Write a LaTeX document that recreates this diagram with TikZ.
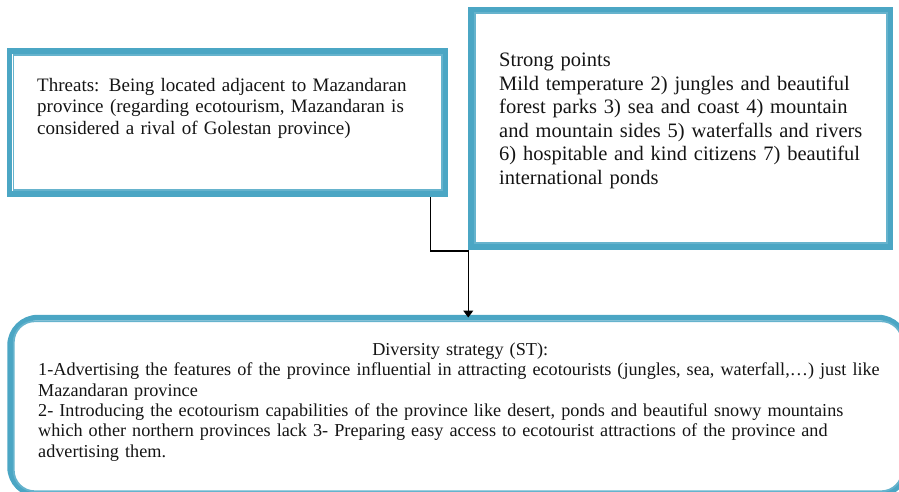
\documentclass[tikz,border=0pt]{standalone}
\usepackage{fontspec}
\setmainfont{Liberation Serif}
\usetikzlibrary{arrows.meta,calc}
\definecolor{boxblue}{RGB}{75,166,196}
\newcommand\jline[1]{\noindent\hbox to\linewidth{#1}\par}
\newcommand\nline[1]{\noindent\hbox{#1}\par}
\begin{document}
\begin{tikzpicture}[x=1pt,y=-1pt,
  outerbox/.style={draw=boxblue,line width=5.5pt,rectangle,inner sep=0pt},
  innerline/.style={draw=boxblue!85,line width=1.8pt},
  txt/.style={inner sep=0pt,anchor=north west,align=left,text=black!92},
  conn/.style={draw=black,line width=1.3pt,-{Triangle[width=10pt,length=7pt]}}]
\useasboundingbox (0,0) rectangle (899,492);
% boxes
\node[outerbox,minimum width=435.75pt,minimum height=143pt] (thr) at (227.6,122.5) {};
\draw[innerline] ([shift={(6.5,6.5)}]thr.north west) rectangle ([shift={(-6.5,-6.5)}]thr.south east);
\node[outerbox,minimum width=419.5pt,minimum height=237.5pt] (str) at (680.75,128.25) {};
\draw[innerline] ([shift={(6.5,6.5)}]str.north west) rectangle ([shift={(-6.5,-6.5)}]str.south east);
\node[outerbox,rounded corners=28pt,minimum width=896pt,minimum height=177.5pt] (div) at (458,406.25) {};
\draw[innerline,rounded corners=21pt] ([shift={(6.5,6.5)}]div.north west) rectangle ([shift={(-6.5,-6.5)}]div.south east);
% texts
\node[txt,text width=382pt,font=\fontsize{19}{21.5}\selectfont] (thrtext) at (37,78) {%
\jline{Threats: Being located adjacent to Mazandaran}
\jline{province (regarding ecotourism, Mazandaran is}
\nline{considered a rival of Golestan province)}};
\node[txt,text width=363pt,font=\fontsize{20.5}{23.5}\selectfont] (strtext) at (499,53) {%
\nline{Strong points}
\jline{Mild temperature 2) jungles and beautiful}
\jline{forest parks 3) sea and coast 4) mountain}
\jline{and mountain sides 5) waterfalls and rivers}
\jline{6) hospitable and kind citizens 7) beautiful}
\nline{international ponds}};
\node[txt,text width=844pt,font=\fontsize{18.2}{20.4}\selectfont] (divtext) at (38,342.5) {%
\jline{\hfil Diversity strategy (ST):\hfil}
\nline{1-Advertising the features of the province influential in attracting ecotourists (jungles, sea, waterfall,…) just like}
\nline{Mazandaran province}
\nline{2- Introducing the ecotourism capabilities of the province like desert, ponds and beautiful snowy mountains}
\nline{which other northern provinces lack 3- Preparing easy access to ecotourist attractions of the province and}
\nline{advertising them.}};
% connector
\coordinate (bend) at (433,251);
\draw[conn] ([xshift=-2.5pt]thr.south -| bend) |- (bend -| str.west) -- ([yshift=-2.75pt]div.north -| str.west);
\end{tikzpicture}
\end{document}
